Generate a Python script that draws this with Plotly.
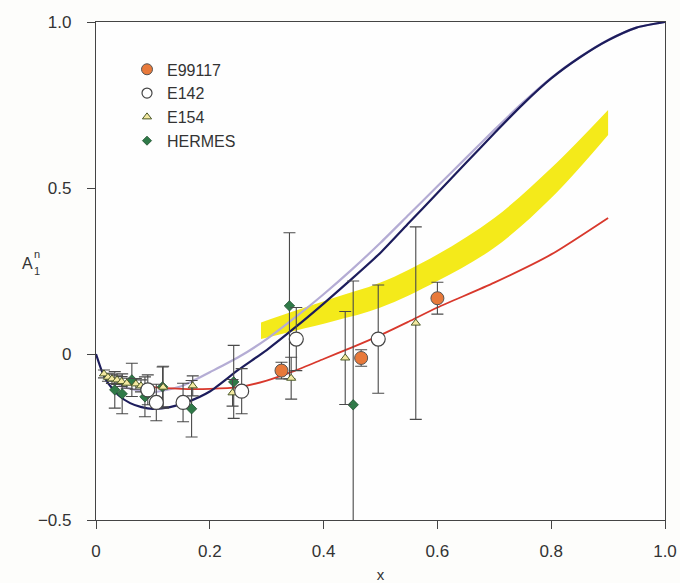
import plotly.graph_objects as go

# ---- curves ----
navy_x = [0.0, 0.01, 0.02, 0.04, 0.06, 0.08, 0.10, 0.13, 0.16, 0.20, 0.25, 0.30, 0.35, 0.40, 0.45, 0.50, 0.55, 0.60, 0.65, 0.70, 0.75, 0.80, 0.85, 0.90, 0.95, 1.0]
navy_y = [0.0, -0.05, -0.085, -0.125, -0.148, -0.16, -0.165, -0.16, -0.145, -0.113, -0.048, 0.012, 0.08, 0.152, 0.227, 0.305, 0.395, 0.485, 0.575, 0.665, 0.752, 0.83, 0.893, 0.945, 0.983, 1.0]

lav_x = [0.02, 0.05, 0.10, 0.15, 0.175, 0.20, 0.25, 0.30, 0.35, 0.40, 0.45, 0.50, 0.55, 0.60, 0.65, 0.70, 0.75, 0.80, 0.85, 0.90, 0.95, 1.0]
lav_y = [-0.07, -0.10, -0.115, -0.097, -0.077, -0.055, -0.01, 0.045, 0.11, 0.18, 0.255, 0.335, 0.42, 0.505, 0.59, 0.675, 0.757, 0.832, 0.894, 0.946, 0.983, 1.0]

red_x = [0.02, 0.05, 0.10, 0.15, 0.20, 0.25, 0.30, 0.35, 0.40, 0.45, 0.50, 0.55, 0.60, 0.70, 0.80, 0.90]
red_y = [-0.065, -0.085, -0.10, -0.105, -0.105, -0.10, -0.08, -0.05, -0.015, 0.02, 0.057, 0.098, 0.14, 0.215, 0.30, 0.41]

band_x = [0.29, 0.35, 0.42, 0.50, 0.60, 0.70, 0.80, 0.90]
band_lo = [0.045, 0.07, 0.10, 0.14, 0.22, 0.32, 0.47, 0.66]
band_hi = [0.095, 0.13, 0.17, 0.215, 0.30, 0.41, 0.56, 0.735]

# ---- data sets ----
e99117_x = [0.326, 0.466, 0.600]
e99117_y = [-0.050, -0.012, 0.168]
e99117_err = [0.025, 0.025, 0.048]

e142_x = [0.091, 0.106, 0.153, 0.256, 0.352, 0.496]
e142_y = [-0.108, -0.146, -0.146, -0.112, 0.045, 0.045]
e142_err = [0.045, 0.055, 0.058, 0.068, 0.095, 0.163]

e154_x = [0.014, 0.021, 0.028, 0.037, 0.045, 0.054, 0.070, 0.079, 0.118, 0.170, 0.240, 0.343, 0.438, 0.562]
e154_y = [-0.060, -0.070, -0.075, -0.078, -0.083, -0.088, -0.090, -0.096, -0.100, -0.096, -0.117, -0.073, -0.012, 0.093]
e154_err = [0.012, 0.012, 0.014, 0.014, 0.015, 0.015, 0.016, 0.018, 0.063, 0.030, 0.040, 0.063, 0.140, 0.290]

hermes_x = [0.033, 0.046, 0.063, 0.086, 0.117, 0.168, 0.242, 0.340, 0.452]
hermes_y = [-0.108, -0.120, -0.078, -0.129, -0.099, -0.165, -0.084, 0.145, -0.153]
hermes_err = [0.055, 0.060, 0.050, 0.060, 0.060, 0.085, 0.110, 0.220, 0.373]

x_ticks = [0, 0.2, 0.4, 0.6, 0.8, 1.0]
x_labels = ["0", "0.2", "0.4", "0.6", "0.8", "1.0"]
y_ticks = [-0.5, 0, 0.5, 1.0]
y_labels = ["\u22120.5", "0", "0.5", "1.0"]

FONT = "Liberation Sans"
fig = go.Figure()

# yellow band
fig.add_trace(go.Scatter(x=band_x, y=band_lo, mode="lines", line=dict(width=0, color="#f4ea1a", shape="spline"),
                         showlegend=False, hoverinfo="skip"))
fig.add_trace(go.Scatter(x=band_x, y=band_hi, mode="lines", line=dict(width=0, color="#f4ea1a", shape="spline"),
                         fill="tonexty", fillcolor="#f4ea1a", showlegend=False, hoverinfo="skip"))

fig.add_trace(go.Scatter(x=lav_x, y=lav_y, mode="lines",
                         line=dict(color="#b4acd4", width=2.2, shape="spline", smoothing=0.6), showlegend=False))
fig.add_trace(go.Scatter(x=red_x, y=red_y, mode="lines",
                         line=dict(color="#d8382c", width=1.8, shape="spline", smoothing=0.6), showlegend=False))
fig.add_trace(go.Scatter(x=navy_x, y=navy_y, mode="lines",
                         line=dict(color="#1c1c5c", width=2.2, shape="spline", smoothing=0.6), showlegend=False))

err_style = dict(type="data", visible=True, color="#4a4a4a", thickness=1.1, width=6)

sets = [
    ("HERMES", hermes_x, hermes_y, hermes_err,
     dict(symbol="diamond", size=8, color="#2f7a48", line=dict(color="#1f4f2f", width=0.8)),
     dict(symbol="diamond", size=7, color="#2f7a48", line=dict(color="#1f4f2f", width=0.8))),
    ("E154", e154_x, e154_y, e154_err,
     dict(symbol="triangle-up", size=8, color="#f3e9a0", line=dict(color="#4d5a2a", width=1)),
     dict(symbol="triangle-up", size=8, color="#f3e9a0", line=dict(color="#4d5a2a", width=1))),
    ("E142", e142_x, e142_y, e142_err,
     dict(symbol="circle", size=14, color="white", line=dict(color="#444444", width=1.2)),
     dict(symbol="circle", size=10, color="white", line=dict(color="#444444", width=1.2))),
    ("E99117", e99117_x, e99117_y, e99117_err,
     dict(symbol="circle", size=13, color="#e8793a", line=dict(color="#555555", width=1)),
     dict(symbol="circle", size=11, color="#e8793a", line=dict(color="#555555", width=1))),
]
for name, xs, ys, es, mk, _ in sets:
    fig.add_trace(go.Scatter(x=xs, y=ys, mode="markers", name=name, showlegend=False,
                             error_y=dict(array=es, **err_style), marker=mk))
# legend entries (legend-only markers, smaller as in the original key)
for name, xs, ys, es, _, lmk in sets:
    fig.add_trace(go.Scatter(x=[None], y=[None], mode="markers", name=name, marker=lmk, showlegend=True))

# axis title annotations
fig.add_annotation(x=-0.121, y=0.273, xref="paper", yref="y", text="A", showarrow=False,
                   font=dict(size=16, color="#333333", family=FONT), xanchor="center", yanchor="middle")
fig.add_annotation(x=-0.103, y=0.300, xref="paper", yref="y", text="n", showarrow=False,
                   font=dict(size=11, color="#333333", family=FONT), xanchor="center", yanchor="middle")
fig.add_annotation(x=-0.103, y=0.250, xref="paper", yref="y", text="1", showarrow=False,
                   font=dict(size=11, color="#333333", family=FONT), xanchor="center", yanchor="middle")

fig.update_layout(
    width=680, height=583,
    margin=dict(l=96, r=15, t=22, b=63),
    paper_bgcolor="#fdfdfb", plot_bgcolor="#fefefe",
    font=dict(family=FONT, size=17, color="#333333"),
    showlegend=True,
    legend=dict(x=0.0545, y=0.939, xanchor="left", yanchor="top", traceorder="reversed",
                bgcolor="rgba(0,0,0,0)", itemwidth=30, font=dict(size=16, color="#333333", family=FONT)),
    xaxis=dict(range=[0, 1.0], tickvals=x_ticks, ticktext=x_labels, showgrid=False, zeroline=False,
               showline=True, linecolor="#444444", linewidth=1.2, mirror=True, automargin=False,
               ticks="outside", ticklen=8, tickcolor="#444444", ticklabelstandoff=7,
               title=dict(text="x", font=dict(size=15), standoff=10)),
    yaxis=dict(range=[-0.5, 1.0], tickvals=y_ticks, ticktext=y_labels, showgrid=False, zeroline=False,
               showline=True, linecolor="#444444", linewidth=1.2, mirror=True, automargin=False,
               ticks="outside", ticklen=8, tickcolor="#444444", ticklabelstandoff=12),
)

fig.write_html("out.html")
